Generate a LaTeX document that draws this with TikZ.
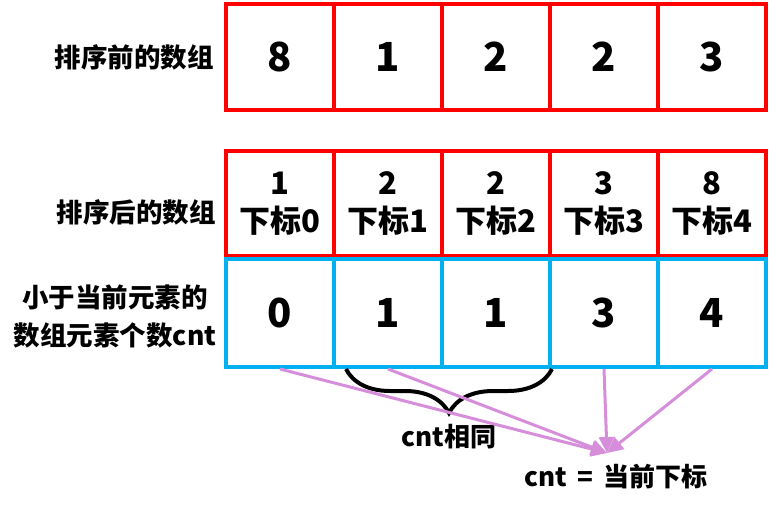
\documentclass[tikz,border=0pt]{standalone}
\usepackage{fontspec}
\setmainfont{Noto Sans CJK SC}
\usepackage{tikz}
\usetikzlibrary{arrows.meta, decorations.pathreplacing, positioning}
\definecolor{cellred}{RGB}{255,0,0}
\definecolor{cellblue}{RGB}{0,176,240}
\definecolor{arrowpink}{RGB}{214,142,218}
\tikzset{
  cell/.style={draw, line width=4pt, minimum width=108pt, inner sep=0pt},
  rowlabel/.style={font=\bfseries\fontsize{26.5}{38}\selectfont, align=center},
  note/.style={font=\bfseries\fontsize{26}{30}\selectfont},
  pointer/.style={arrowpink, line width=3pt, -{Triangle[length=16pt, width=15pt]}},
}

\begin{document}
\begin{tikzpicture}[x=1pt, y=-1pt]
        \useasboundingbox (0,0) rectangle (776,507);
        % sorting before
        \foreach \v [count=\i] in {8,1,2,2,3}
            \node[cell, draw=cellred, minimum height=106pt,
                  font=\bfseries\fontsize{40}{48}\selectfont] (t\i) at (172+108*\i,57) {\v};
        % sorting after, with index
        \foreach \v/\k [count=\i] in {1/0,2/1,2/2,3/3,8/4}
            \node[cell, draw=cellred, minimum height=105pt, align=center,
                  font=\bfseries\fontsize{31}{38}\selectfont] (m\i) at (172+108*\i,203.5) {\v\\下标\k};
        % cnt row
        \foreach \v [count=\i] in {0,1,1,3,4}
            \node[cell, draw=cellblue, minimum height=108pt,
                  font=\bfseries\fontsize{40}{48}\selectfont] (c\i) at (172+108*\i,313) {\v};
        \node[rowlabel] (before) at (134,57) {排序前的数组};
        \node[rowlabel] (after) at (136,212) {排序后的数组};
        \node[rowlabel] (cntlabel) at (115,316) {小于当前元素的\\数组元素个数cnt};
        % brace under equal cnt
        \draw[line width=4pt, decorate, decoration={brace, mirror, amplitude=44pt}]
            ([xshift=14pt]c2.south west) -- (c3.south east);
        \node[note] (same) at (449,437) {cnt相同};
        \node[note] (result) at (616,477) {cnt\, = \,当前下标};
        \coordinate (meet) at (607,453);
        \foreach \j in {1,2,4,5}
            \draw[pointer] (c\j.south) -- (meet);
    \end{tikzpicture}
\end{document}
